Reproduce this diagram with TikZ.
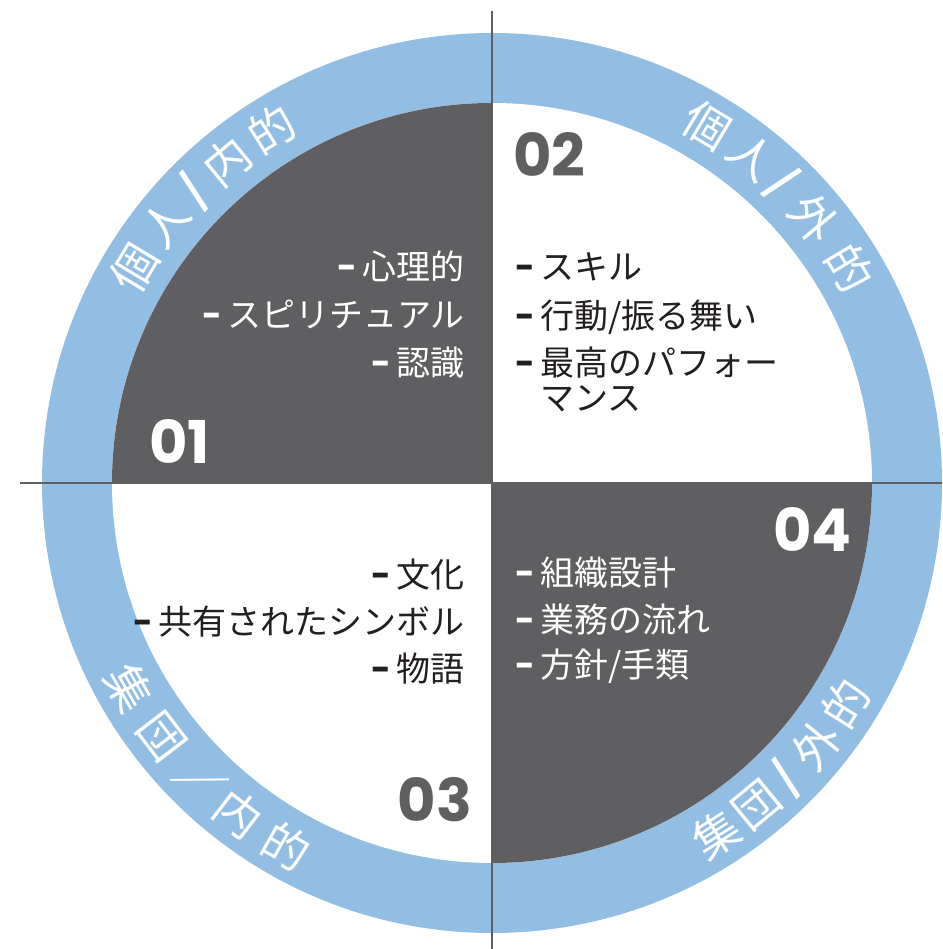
\documentclass[tikz,border=0pt]{standalone}
\usepackage{fontspec}
\newfontfamily\jpfont{Noto Sans CJK JP}
\newfontfamily\numfont{Poppins}
\definecolor{qdark}{HTML}{5F5F62}
\definecolor{ringblue}{HTML}{92BEE4}
\definecolor{txtdark}{HTML}{231F20}
\newcommand\dsh{{\numfont\bfseries -}\,}
\tikzset{
  ringch/.style={text=white, inner sep=0pt, font=\jpfont\fontsize{46}{46}\selectfont},
  itemtxt/.style={inner sep=0pt, font=\jpfont\fontsize{34}{34}\selectfont},
  onlight/.style={itemtxt, text=txtdark},
  ondark/.style={itemtxt, text=white},
  numlbl/.style={inner sep=0pt, font=\numfont\bfseries\fontsize{59}{59}\selectfont},
  axis/.style={draw=qdark, line width=2pt}
}
\begin{document}
\begin{tikzpicture}[x=1pt,y=1pt]
\useasboundingbox (-492,-466) rectangle (450,483);
% ring and quadrants
\fill[ringblue] (0,0) circle (450);
\fill[white] (0,0) circle (380);
\fill[qdark] (0,0) -- (0,380) arc (90:180:380) -- cycle;
\fill[qdark] (0,0) -- (0,-380) arc (270:360:380) -- cycle;
% axes
\coordinate (vtop) at (0,472);
\coordinate (vbot) at (0,-466);
\coordinate (hleft) at (-472,0);
\coordinate (hright) at (450,0);
\draw[axis] (vtop) -- (vbot);
\draw[axis] (hleft) -- (hright);
% ring labels
\foreach \a/\c/\i in {149/個/1,141.5/人/2,135.5/\textbf{/}/3,129.5/内/4,122/的/5}
  \node[ringch, rotate=\a-90] (tl\i) at (\a:417) {\c};
\foreach \a/\c/\i in {59/個/1,51.5/人/2,46/\textbf{/}/3,39.5/外/4,31/的/5}
  \node[ringch, rotate=\a-90] (tr\i) at (\a:417) {\c};
\foreach \a/\c/\i in {209.5/集/1,217.5/団/2,225.5/／/3,232.5/内/4,240.5/的/5}
  \node[ringch, rotate=\a+90] (bl\i) at (\a:417) {\c};
\foreach \a/\c/\i in {-57.5/集/1,-50.5/団/2,-45/\textbf{/}/3,-39/外/4,-32/的/5}
  \node[ringch, rotate=\a+90] (br\i) at (\a:417) {\c};
% numbers
\node[numlbl, text=white, anchor=west] (n1) at (-343,41) {01};
\node[numlbl, text=qdark, anchor=west] (n2) at (21,328) {02};
\node[numlbl, text=qdark, anchor=east] (n3) at (-20,-317) {03};
\node[numlbl, text=white, anchor=west] (n4) at (281,-47) {04};
% quadrant 1
\node[ondark, anchor=east] (q1a) at (-27,216) {\dsh 心理的\vphantom{国}};
\node[ondark, anchor=east] (q1b) at (-27,168) {\dsh スピリチュアル\vphantom{国}};
\node[ondark, anchor=east] (q1c) at (-27,120) {\dsh 認識\vphantom{国}};
% quadrant 2
\node[onlight, anchor=west] (q2a) at (23,216) {\dsh スキル\vphantom{国}};
\node[onlight, anchor=west] (q2b) at (23,166) {\dsh 行動/振る舞い\vphantom{国}};
\node[onlight, anchor=west] (q2c) at (23,120) {\dsh 最高のパフォー\vphantom{国}};
\node[onlight, anchor=west] (q2d) at (23,85) {\phantom{\dsh}マンス\vphantom{国}};
% quadrant 3
\node[onlight, anchor=east] (q3a) at (-27,-92) {\dsh 文化\vphantom{国}};
\node[onlight, anchor=east] (q3b) at (-27,-139) {\dsh 共有されたシンボル\vphantom{国}};
\node[onlight, anchor=east] (q3c) at (-27,-186) {\dsh 物語\vphantom{国}};
% quadrant 4
\node[ondark, anchor=west] (q4a) at (23,-90) {\dsh 組織設計\vphantom{国}};
\node[ondark, anchor=west] (q4b) at (23,-137) {\dsh 業務の流れ\vphantom{国}};
\node[ondark, anchor=west] (q4c) at (23,-183) {\dsh 方針/手類\vphantom{国}};
\end{tikzpicture}
\end{document}
